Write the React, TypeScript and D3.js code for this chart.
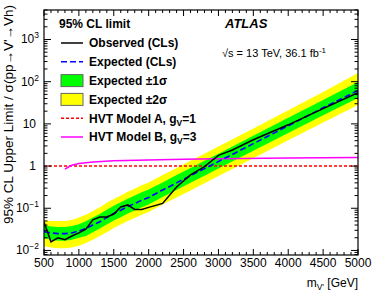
import React from 'react';
import * as d3 from 'd3';

// mass points for expected limits and bands [GeV]
const massPoints = [500, 600, 700, 800, 900, 1000, 1100, 1200, 1300, 1400, 1500, 1600, 1700, 1800, 1900, 2000, 2200, 2400, 2600, 2800, 3000, 3500, 4000, 4500, 5000];
const expected = [0.028, 0.026, 0.025, 0.025, 0.026, 0.029, 0.033, 0.040, 0.048, 0.060, 0.075, 0.090, 0.110, 0.130, 0.155, 0.180, 0.27, 0.40, 0.59, 0.87, 1.28, 3.4, 9.0, 24, 62];
const plus1 = [0.040, 0.037, 0.036, 0.036, 0.038, 0.042, 0.049, 0.060, 0.073, 0.092, 0.115, 0.138, 0.168, 0.20, 0.238, 0.28, 0.41, 0.61, 0.90, 1.33, 1.96, 5.2, 14, 37, 98];
const minus1 = [0.0195, 0.018, 0.017, 0.017, 0.018, 0.020, 0.022, 0.027, 0.033, 0.041, 0.051, 0.061, 0.075, 0.088, 0.105, 0.122, 0.184, 0.27, 0.40, 0.59, 0.87, 2.3, 6.1, 16, 41];
const plus2 = [0.052, 0.050, 0.050, 0.050, 0.053, 0.060, 0.070, 0.086, 0.105, 0.135, 0.165, 0.20, 0.245, 0.29, 0.35, 0.41, 0.61, 0.90, 1.33, 1.97, 2.9, 7.8, 21, 57, 160];
const minus2 = [0.0125, 0.0117, 0.0112, 0.0112, 0.0117, 0.013, 0.015, 0.018, 0.022, 0.027, 0.034, 0.041, 0.050, 0.059, 0.070, 0.081, 0.122, 0.18, 0.265, 0.39, 0.58, 1.53, 4.1, 10.8, 28];

// observed limit
const obsMass = [500, 600, 700, 800, 900, 1000, 1100, 1200, 1300, 1400, 1500, 1600, 1700, 1800, 1900, 2000, 2200, 2400, 2600, 2800, 3000, 3200, 3500, 4000, 4500, 5000];
const observed = [0.047, 0.016, 0.020, 0.018, 0.022, 0.026, 0.032, 0.053, 0.062, 0.062, 0.073, 0.107, 0.120, 0.094, 0.094, 0.105, 0.13, 0.32, 0.62, 0.97, 1.8, 2.4, 4.2, 9.5, 23, 55];

// HVT benchmark models
const hvtAMass = [500, 5000];
const hvtA = [1.0, 1.0];
const hvtBMass = [800, 850, 900, 1000, 1200, 1500, 2000, 2500, 3000, 4000, 5000];
const hvtB = [0.85, 0.95, 1.05, 1.15, 1.25, 1.33, 1.4, 1.45, 1.5, 1.55, 1.6];

const xMajor = [500, 1000, 1500, 2000, 2500, 3000, 3500, 4000, 4500, 5000];
const yMajorExp = [-2, -1, 0, 1, 2, 3];

const FONT = '"Liberation Sans", Arial, Helvetica, sans-serif';

export default function App() {
  const W = 374, H = 296;
  const left = 44, right = 358, top = 10, bottom = 255;

  const x = d3.scaleLinear().domain([500, 5000]).range([left, right]);
  const y = d3.scaleLog().domain([0.0078, 5000]).range([bottom, top]);

  const band = (lo: number[], hi: number[]) =>
    d3.area<number>()
      .x((_, i) => x(massPoints[i]))
      .y0((_, i) => y(lo[i]))
      .y1((_, i) => y(hi[i]))(massPoints.map((_, i) => i)) || '';

  const line = (xs: number[], ys: number[]) =>
    d3.line<number>()
      .x(i => x(xs[i]))
      .y(i => y(ys[i]))(xs.map((_, i) => i)) || '';

  // minor ticks
  const xMinor = d3.range(500, 5001, 100);
  const yMinor: number[] = [];
  for (let e = -3; e <= 3; e++) {
    for (let k = 1; k <= 9; k++) {
      const v = k * Math.pow(10, e);
      if (v >= 0.0078 && v <= 5000) yMinor.push(v);
    }
  }

  const yLabel = (e: number) => {
    if (e === 0) return <tspan>1</tspan>;
    if (e === 1) return <tspan>10</tspan>;
    return (
      <>
        <tspan>10</tspan>
        <tspan dy={-5} fontSize={8.5}>{e < 0 ? '\u2212' + (-e) : String(e)}</tspan>
      </>
    );
  };

  const legendRows = [
    { label: 'Observed (CLs)', kind: 'line', color: '#000', dash: '' },
    { label: 'Expected (CLs)', kind: 'line', color: '#0000ff', dash: '6,3' },
    { label: 'Expected \u00b11\u03c3', kind: 'box', color: '#00ff00', dash: '' },
    { label: 'Expected \u00b12\u03c3', kind: 'box', color: '#ffff00', dash: '' },
    { label: 'HVT Model A, g', sub: 'V', after: '=1', kind: 'line', color: '#ff0000', dash: '3,2' },
    { label: 'HVT Model B, g', sub: 'V', after: '=3', kind: 'line', color: '#ff00ff', dash: '' },
  ];

  return (
    <svg width={W} height={H} style={{ position: 'absolute', left: 0, top: 0, background: '#fff' }} fontFamily={FONT}>
      <defs>
        <clipPath id="plot">
          <rect x={left} y={top} width={right - left} height={bottom - top} />
        </clipPath>
      </defs>

      <g clipPath="url(#plot)">
        <path d={band(minus2, plus2)} fill="#ffff00" />
        <path d={band(minus1, plus1)} fill="#00ff00" />
        <path d={line(hvtAMass, hvtA)} fill="none" stroke="#ff0000" strokeWidth={1.5} strokeDasharray="3,2" />
        <path d={line(hvtBMass, hvtB)} fill="none" stroke="#ff00ff" strokeWidth={1.5} />
        <path d={line(massPoints, expected)} fill="none" stroke="#0000ff" strokeWidth={1.6} strokeDasharray="6,3" />
        <path d={line(obsMass, observed)} fill="none" stroke="#000" strokeWidth={1.5} />
      </g>

      {/* x ticks, bottom and top, pointing inward */}
      {xMinor.map(v => {
        const major = v % 500 === 0;
        const len = major ? 6 : 3;
        return (
          <g key={'xt' + v} stroke="#000" strokeWidth={1}>
            <line x1={x(v)} x2={x(v)} y1={bottom} y2={bottom - len} />
            <line x1={x(v)} x2={x(v)} y1={top} y2={top + len} />
          </g>
        );
      })}
      {/* y ticks, left and right */}
      {yMinor.map(v => {
        const major = Math.abs(Math.log10(v) - Math.round(Math.log10(v))) < 1e-9;
        const len = major ? 7 : 3.5;
        return (
          <g key={'yt' + v} stroke="#000" strokeWidth={1}>
            <line x1={left} x2={left + len} y1={y(v)} y2={y(v)} />
            <line x1={right} x2={right - len} y1={y(v)} y2={y(v)} />
          </g>
        );
      })}

      <rect x={left} y={top} width={right - left} height={bottom - top} fill="none" stroke="#000" strokeWidth={1.2} />

      {xMajor.map(v => (
        <text key={'xl' + v} x={x(v)} y={267} fontSize={12} textAnchor="middle">{v}</text>
      ))}
      {yMajorExp.map(e => (
        <text key={'yl' + e} x={e === 0 || e === 1 ? 36 : 39} y={y(Math.pow(10, e)) + 4} fontSize={12} textAnchor="end">
          {yLabel(e)}
        </text>
      ))}

      <text x={358} y={287} fontSize={12} textAnchor="end">
        <tspan>m</tspan>
        <tspan dy={3} fontSize={8.5}>V'</tspan>
        <tspan dy={-3}> [GeV]</tspan>
      </text>
      <text transform="translate(13,5) rotate(-90)" fontSize={13.5} textAnchor="end">
        95% CL Upper Limit / σ(pp→V'→Vh)
      </text>

      <text x={225} y={28} fontSize={13} fontWeight="bold" fontStyle="italic">ATLAS</text>
      <text x={222} y={57} fontSize={11}>
        <tspan>√s = 13 TeV, 36.1 fb</tspan>
        <tspan dy={-4} fontSize={8}>-1</tspan>
      </text>

      <text x={59} y={28} fontSize={12} fontWeight="bold">95% CL limit</text>
      {legendRows.map((r, i) => {
        const cy = 43 + i * 18.8;
        return (
          <g key={'lg' + i}>
            {r.kind === 'line' ? (
              <line x1={61} x2={83} y1={cy} y2={cy} stroke={r.color} strokeWidth={1.5} strokeDasharray={r.dash || undefined} />
            ) : (
              <rect x={61} y={cy - 6} width={22} height={12} fill={r.color} stroke="#666" strokeWidth={1} />
            )}
            <text x={89} y={cy + 4.3} fontSize={12} fontWeight="bold">
              <tspan>{r.label}</tspan>
              {r.sub && <tspan dy={3} fontSize={8.5}>{r.sub}</tspan>}
              {r.after && <tspan dy={-3}>{r.after}</tspan>}
            </text>
          </g>
        );
      })}
    </svg>
  );
}
